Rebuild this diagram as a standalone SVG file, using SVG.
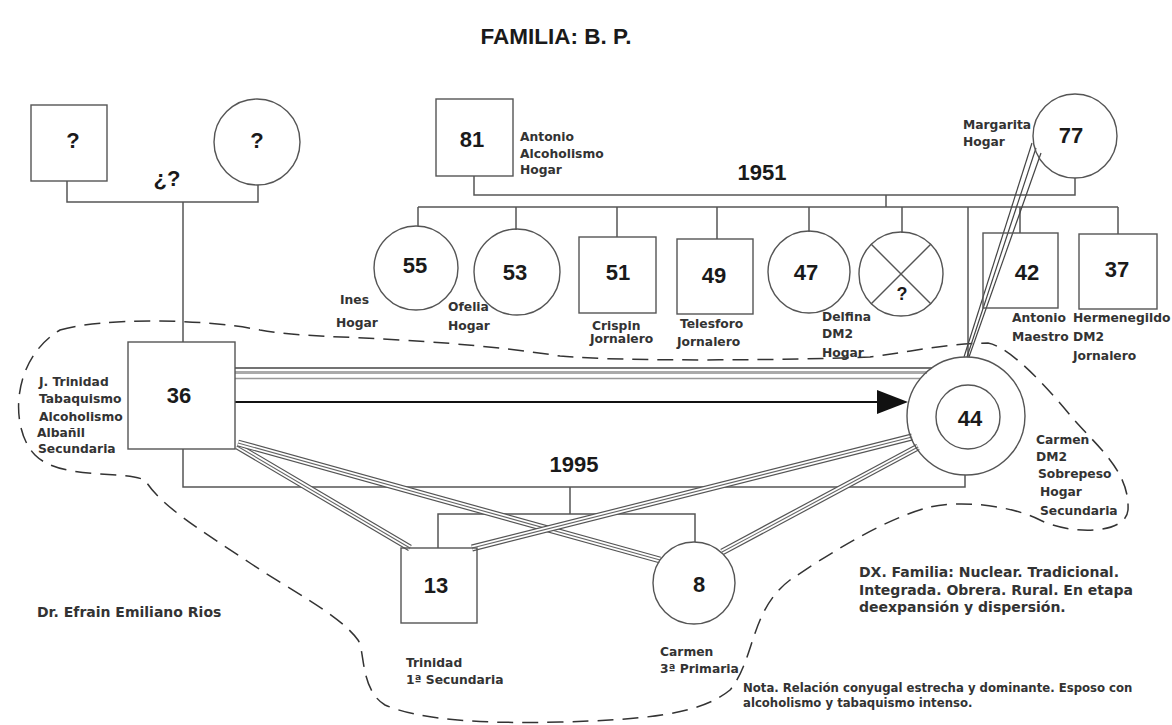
<svg xmlns="http://www.w3.org/2000/svg" xmlns:xlink="http://www.w3.org/1999/xlink" width="1172" height="725" viewBox="0 0 1172 725">
<style>
.bg{fill:#fff}
.node{fill:none;stroke:#555;stroke-width:1.4}
.ln{fill:none;stroke:#555;stroke-width:1.5}
.num{font-family:"Liberation Sans",Arial,sans-serif;font-weight:bold;font-size:22px;fill:#1a1a1a;text-anchor:middle}
.lbl{font-family:"DejaVu Sans",Verdana,sans-serif;font-weight:bold;font-size:12.3px;fill:#333}
.big{font-family:"DejaVu Sans",Verdana,sans-serif;font-weight:bold;font-size:14px;fill:#333}
.note{font-family:"DejaVu Sans",Verdana,sans-serif;font-weight:bold;font-size:11.7px;fill:#333}
.o{stroke:#555;stroke-width:7;fill:none}
.w{stroke:#fff;stroke-width:4.6;fill:none}
.c{stroke:#666;stroke-width:1.1;fill:none}
.dash{fill:none;stroke:#333;stroke-width:1.5;stroke-dasharray:16 9}
</style>
<defs>
<line id="bA" x1="237" y1="446" x2="410" y2="548"/>
<line id="bB" x1="238" y1="443" x2="660" y2="560"/>
<line id="bC" x1="472" y1="548" x2="912" y2="437"/>
<line id="bD" x1="722" y1="552" x2="918" y2="447"/>
</defs>
<rect class="bg" x="0" y="0" width="1172" height="725"/>

<text x="556" y="44" style="font-family:'Liberation Sans',Arial,sans-serif;font-weight:bold;font-size:22.5px;fill:#1a1a1a;text-anchor:middle">FAMILIA: B. P.</text>

<g id="household">
<path class="dash" d="M60,330 C100,318 200,318 260,330 C300,337 340,336 400,340 C470,344 520,350 560,356 C620,362 800,360 870,357 C910,352 940,344 988,343 C1010,347 1045,385 1070,415 C1095,445 1130,470 1128,510 C1126,535 1070,535 1040,520 C1010,505 960,500 930,507 C880,520 820,560 790,580 C750,610 755,660 730,690 C700,715 640,720 560,722 C480,724 420,720 385,705 C360,690 365,650 358,640 C340,615 290,590 250,563 C200,530 160,505 145,480 C120,470 60,480 35,455 C10,430 10,360 60,330 Z"/>
</g>

<g id="connectors">
<polyline class="ln" points="67,181 67,202 258,202 258,185"/>
<line class="ln" x1="183" y1="202" x2="183" y2="342"/>
<polyline class="ln" points="474,176 474,195 1075,195 1075,178"/>
<line class="ln" x1="886" y1="195" x2="886" y2="207"/>
<line class="ln" x1="418" y1="207" x2="1118" y2="207"/>
<line class="ln" x1="418" y1="207" x2="418" y2="226"/>
<line class="ln" x1="516" y1="207" x2="516" y2="230"/>
<line class="ln" x1="617" y1="207" x2="617" y2="237"/>
<line class="ln" x1="717" y1="207" x2="717" y2="239"/>
<line class="ln" x1="809" y1="207" x2="809" y2="232"/>
<line class="ln" x1="902" y1="207" x2="902" y2="233"/>
<line class="ln" x1="968" y1="207" x2="968" y2="357"/>
<line class="ln" x1="1020" y1="207" x2="1020" y2="233"/>
<line class="ln" x1="1118" y1="207" x2="1118" y2="234"/>
<polyline class="ln" points="183,449 183,487 965,487 965,475"/>
<line class="ln" x1="570" y1="487" x2="570" y2="514"/>
<polyline class="ln" points="438,548 438,514 695,514 695,542"/>
<g id="rel-36-44">
<line x1="235" y1="368" x2="932" y2="368" stroke="#444" stroke-width="1.5"/>
<line x1="235" y1="372.5" x2="927" y2="372.5" stroke="#aaa" stroke-width="3"/>
<line x1="235" y1="378.5" x2="920" y2="378.5" stroke="#999" stroke-width="1.5"/>
</g>
<g id="arrow-36-44">
<line x1="235" y1="402" x2="880" y2="402" stroke="#111" stroke-width="2"/>
<polygon points="877,390 908,402 877,414" fill="#111"/>
</g>
<g id="rel-36-13"><use href="#bA" class="o"/><use href="#bA" class="w"/><use href="#bA" class="c"/></g>
<g id="rel-36-8"><use href="#bB" class="o"/><use href="#bB" class="w"/><use href="#bB" class="c"/></g>
<g id="rel-13-44"><use href="#bC" class="o"/><use href="#bC" class="w"/><use href="#bC" class="c"/></g>
<g id="rel-8-44"><use href="#bD" class="o"/><use href="#bD" class="w"/><use href="#bD" class="c"/></g>
<g id="rel-77-44" stroke="#444" stroke-width="1.2">
<line x1="1032" y1="143" x2="964" y2="357"/>
<line x1="1036" y1="148" x2="967" y2="357"/>
<line x1="1041" y1="153" x2="969" y2="357"/>
</g>
</g>

<g id="n-unknown-father">
<rect class="node" x="31" y="105" width="76" height="76"/>
<text class="num" x="73" y="148">?</text>
</g>
<g id="n-unknown-mother">
<circle class="node" cx="257" cy="142" r="43"/>
<text class="num" x="257" y="148">?</text>
</g>
<text class="num" x="167" y="186">¿?</text>

<g id="n-81">
<rect class="node" x="436" y="99" width="77" height="77"/>
<text class="num" x="472" y="147">81</text>
<text class="lbl" x="520" y="141">Antonio</text>
<text class="lbl" x="520" y="158">Alcoholismo</text>
<text class="lbl" x="520" y="174">Hogar</text>
</g>
<g id="n-77">
<circle class="node" cx="1075" cy="136" r="42"/>
<text class="num" x="1071" y="143">77</text>
<text class="lbl" x="963" y="129">Margarita</text>
<text class="lbl" x="963" y="146">Hogar</text>
</g>
<text class="num" x="762" y="180">1951</text>

<g id="n-55">
<circle class="node" cx="416" cy="268" r="42"/>
<text class="num" x="415" y="273">55</text>
<text class="lbl" x="340" y="304">Ines</text>
<text class="lbl" x="336" y="327">Hogar</text>
</g>
<g id="n-53">
<circle class="node" cx="517" cy="272" r="43"/>
<text class="num" x="515" y="280">53</text>
<text class="lbl" x="448" y="311">Ofelia</text>
<text class="lbl" x="448" y="330">Hogar</text>
</g>
<g id="n-51">
<rect class="node" x="579" y="237" width="77" height="76"/>
<text class="num" x="618" y="280">51</text>
<text class="lbl" x="592" y="330">Crispin</text>
<text class="lbl" x="590" y="343">Jornalero</text>
</g>
<g id="n-49">
<rect class="node" x="677" y="239" width="76" height="75"/>
<text class="num" x="714" y="283">49</text>
<text class="lbl" x="680" y="328">Telesforo</text>
<text class="lbl" x="677" y="346">Jornalero</text>
</g>
<g id="n-47">
<circle class="node" cx="809" cy="272" r="41"/>
<text class="num" x="806" y="280">47</text>
<text class="lbl" x="822" y="321">Delfina</text>
<text class="lbl" x="822" y="338">DM2</text>
<text class="lbl" x="822" y="357">Hogar</text>
</g>
<g id="n-deceased">
<circle class="node" cx="901" cy="274" r="42"/>
<line class="node" x1="871" y1="244" x2="931" y2="304"/>
<line class="node" x1="931" y1="244" x2="871" y2="304"/>
<text class="num" x="902" y="300" style="font-size:18px">?</text>
</g>
<g id="n-42">
<rect class="node" x="983" y="233" width="75" height="75"/>
<text class="num" x="1027" y="280">42</text>
<text class="lbl" x="1012" y="322">Antonio</text>
<text class="lbl" x="1012" y="341">Maestro</text>
</g>
<g id="n-37">
<rect class="node" x="1079" y="234" width="78" height="75"/>
<text class="num" x="1117" y="277">37</text>
<text class="lbl" x="1073" y="322">Hermenegildo</text>
<text class="lbl" x="1073" y="341">DM2</text>
<text class="lbl" x="1073" y="360">Jornalero</text>
</g>

<g id="n-36">
<rect class="node" x="128" y="342" width="107" height="107" fill="none"/>
<text class="num" x="179" y="403">36</text>
<text class="lbl" x="39" y="386">J. Trinidad</text>
<text class="lbl" x="39" y="403">Tabaquismo</text>
<text class="lbl" x="39" y="421">Alcoholismo</text>
<text class="lbl" x="37" y="437">Albañil</text>
<text class="lbl" x="38" y="453">Secundaria</text>
</g>
<g id="n-44">
<circle class="node" cx="966" cy="416" r="59"/>
<circle class="node" cx="968" cy="417" r="32"/>
<text class="num" x="970" y="426">44</text>
<text class="lbl" x="1036" y="444">Carmen</text>
<text class="lbl" x="1036" y="461">DM2</text>
<text class="lbl" x="1038" y="478">Sobrepeso</text>
<text class="lbl" x="1040" y="496">Hogar</text>
<text class="lbl" x="1040" y="515">Secundaria</text>
</g>
<text class="num" x="574" y="472">1995</text>

<g id="n-13">
<rect class="node" x="401" y="548" width="76" height="75"/>
<text class="num" x="436" y="593">13</text>
<text class="lbl" x="406" y="667">Trinidad</text>
<text class="lbl" x="406" y="684">1ª Secundaria</text>
</g>
<g id="n-8">
<circle class="node" cx="694" cy="583" r="41"/>
<text class="num" x="699" y="592">8</text>
<text class="lbl" x="660" y="656">Carmen</text>
<text class="lbl" x="660" y="673">3ª Primaria</text>
</g>

<g id="notes">
<text class="big" x="859" y="577">DX. Familia: Nuclear. Tradicional.</text>
<text class="big" x="859" y="595">Integrada. Obrera. Rural. En etapa</text>
<text class="big" x="859" y="612">deexpansión y dispersión.</text>
<text class="note" x="743" y="692">Nota. Relación conyugal estrecha y dominante. Esposo con</text>
<text class="note" x="743" y="707">alcoholismo y tabaquismo intenso.</text>
<text class="big" x="37" y="617">Dr. Efrain Emiliano Rios</text>
</g>
</svg>
